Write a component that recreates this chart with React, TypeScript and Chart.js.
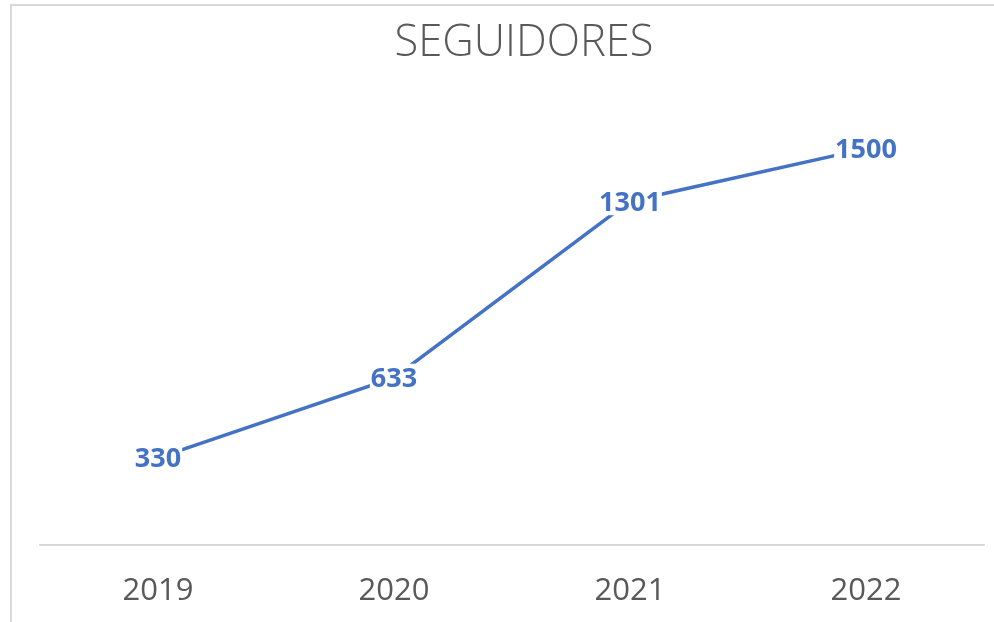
import React, { useEffect, useRef } from "react";
import { Chart, registerables } from "chart.js";

Chart.register(...registerables);

const categories = ["2019", "2020", "2021", "2022"];
const seguidores = [330, 633, 1301, 1500];
const chartTitle = "SEGUIDORES";
const yMin = 0;
const yMax = 1600;

const BLUE = "#4472C4";
const GREY_TEXT = "#595959";
const BORDER = "#d9d9d9";

const framePlugin = {
  id: "frame",
  beforeDraw(chart: any) {
    const { ctx, width, height } = chart;
    ctx.save();
    ctx.fillStyle = "#ffffff";
    ctx.fillRect(0, 0, width, height);
    ctx.fillStyle = BORDER;
    ctx.fillRect(10, 4, width, 2);
    ctx.fillRect(10, 4, 2, height);
    ctx.restore();
  },
};

const labelPlugin = {
  id: "centerLabels",
  afterDatasetsDraw(chart: any) {
    const { ctx } = chart;
    const meta = chart.getDatasetMeta(0);
    const data = chart.data.datasets[0].data as number[];
    ctx.save();
    ctx.font = 'bold 27px "Open Sans"';
    meta.data.forEach((pt: any, i: number) => {
      const text = String(data[i]);
      const m = ctx.measureText(text);
      const w = m.width;
      const asc = m.actualBoundingBoxAscent || 19;
      ctx.fillStyle = "#ffffff";
      ctx.fillRect(pt.x - w / 2 - 1, pt.y - 14, w + 2, 28);
      ctx.fillStyle = BLUE;
      ctx.textAlign = "center";
      ctx.textBaseline = "alphabetic";
      ctx.fillText(text, pt.x, pt.y + asc / 2);
    });
    ctx.restore();
  },
};

export default function App() {
  const ref = useRef<HTMLCanvasElement>(null);
  useEffect(() => {
    if (!ref.current) return;
    const chart = new Chart(ref.current, {
      type: "line",
      data: {
        labels: categories,
        datasets: [
          {
            data: seguidores,
            borderColor: BLUE,
            backgroundColor: BLUE,
            borderWidth: 3.5,
            pointRadius: 0,
            tension: 0,
            fill: false,
            yAxisID: "y",
          },
        ],
      },
      options: {
        responsive: false,
        animation: false,
        layout: { padding: { left: 40, right: 40, top: 5, bottom: 12 } },
        plugins: {
          legend: { display: false },
          tooltip: { enabled: false },
          title: {
            display: true,
            text: chartTitle,
            color: GREY_TEXT,
            font: { family: '"Open Sans"', size: 43.5, weight: 300 as any },
            padding: { top: 13, bottom: 52 },
          },
        },
        scales: {
          x: {
            offset: true,
            grid: { display: false, drawTicks: false },
            border: { display: true, color: BORDER, width: 2 },
            ticks: {
              color: GREY_TEXT,
              font: { family: '"Open Sans"', size: 31 },
              padding: 28,
              maxRotation: 0,
            },
            afterFit: (s: any) => {
              s.height = 65;
            },
          },
          y: {
            display: true,
            position: "right",
            min: yMin,
            max: yMax,
            grid: { display: false, drawTicks: false },
            border: { display: false },
            ticks: { display: false },
            afterFit: (s: any) => {
              s.width = 24;
            },
          },
        },
      },
      plugins: [framePlugin, labelPlugin],
    });
    return () => chart.destroy();
  }, []);
  return (
    <div
      style={{
        position: "absolute",
        left: 0,
        top: 0,
        width: 994,
        height: 622,
        overflow: "hidden",
        background: "#fff",
      }}
    >
      <canvas ref={ref} width={1048} height={622} style={{ display: "block" }} />
    </div>
  );
}
